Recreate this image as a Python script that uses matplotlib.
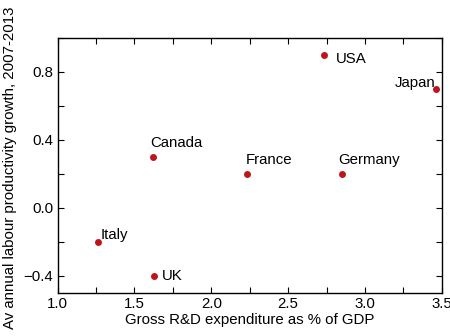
import matplotlib
matplotlib.use('Agg')
import matplotlib.pyplot as plt
from matplotlib.ticker import MultipleLocator, FormatStrFormatter

countries = ['USA', 'Japan', 'Canada', 'France', 'Germany', 'Italy', 'UK']
rd_spend = [2.73, 3.46, 1.62, 2.23, 2.85, 1.26, 1.63]
productivity = [0.90, 0.70, 0.30, 0.20, 0.20, -0.20, -0.40]

# label offsets in points (dx, dy) and alignment
label_pos = {
    'USA': (9, -3, 'left'),
    'Japan': (0, 4, 'right'),
    'Canada': (-2, 10, 'left'),
    'France': (-1, 10, 'left'),
    'Germany': (-3, 10, 'left'),
    'Italy': (2, 5, 'left'),
    'UK': (5, 0, 'left'),
}

plt.rcParams['font.family'] = ['Liberation Sans', 'DejaVu Sans']

fig, ax = plt.subplots(figsize=(4.5, 3.36), dpi=100)
fig.subplots_adjust(left=0.128, right=0.982, top=0.887, bottom=0.128)

ax.plot(rd_spend, productivity, 'o', color='#c0141c', markersize=5, markeredgewidth=0)

for name, x, y in zip(countries, rd_spend, productivity):
    dx, dy, ha = label_pos[name]
    ax.annotate(name, (x, y), xytext=(dx, dy), textcoords='offset points',
                ha=ha, va='center', fontsize=10.8)

ax.set_xlim(1.0, 3.5)
ax.set_ylim(-0.5, 1.0)
ax.xaxis.set_major_locator(MultipleLocator(0.5))
ax.xaxis.set_minor_locator(MultipleLocator(0.25))
ax.xaxis.set_major_formatter(FormatStrFormatter('%.1f'))
ax.set_yticks([-0.4, 0.0, 0.4, 0.8])
ax.set_yticklabels(['\u22120.4', '0.0', '0.4', '0.8'])
ax.yaxis.set_minor_locator(MultipleLocator(0.2))

ax.tick_params(which='both', direction='in', top=True, right=True,
               length=4, width=0.8, labelsize=10.8, pad=3)

for s in ax.spines.values():
    s.set_linewidth(1.0)

ax.set_xlabel('Gross R&D expenditure as % of GDP', fontsize=10.8, labelpad=1)
fig.text(0.022, 0.5, 'Av annual labour productivity growth, 2007-2013', fontsize=10.8,
         rotation=90, ha='center', va='center')

fig.savefig('out.png', dpi=100, facecolor='white')
